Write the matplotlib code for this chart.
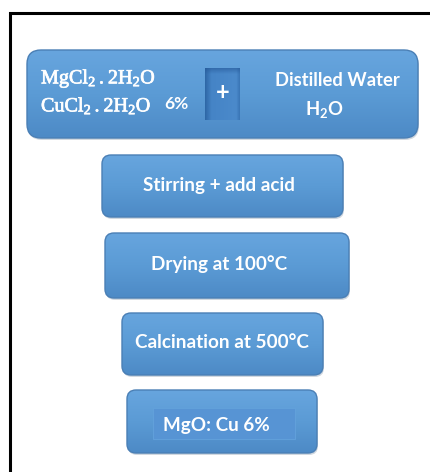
import numpy as np
import matplotlib
matplotlib.use('Agg')
import matplotlib.pyplot as plt
import matplotlib.patheffects as pe
from matplotlib.patches import FancyBboxPatch, Rectangle

plt.rcParams['mathtext.fontset'] = 'custom'
plt.rcParams['mathtext.rm'] = 'Liberation Serif'
plt.rcParams['mathtext.bf'] = 'Lato:bold'

# flowchart steps (top to bottom)
steps = ['Stirring + add acid', 'Drying at 100°C', 'Calcination at 500°C', 'MgO: Cu 6%']
# box extents in pixels: x0, y0, x1, y1
step_boxes = [(102, 155, 343, 217), (105, 233, 349, 298), (122, 313, 323, 375), (127, 390, 317, 453)]
step_text_x = [219, 219, 222, 216]

reagents = [r'$\mathrm{MgCl_2}\,\mathrm{{.}2H_2O}$', r'$\mathrm{CuCl_2}\,\mathrm{{.}2H_2O}$']
solvent = ['Distilled Water', r'$\mathbf{H_2O}$']

W, H = 430, 472
fig = plt.figure(figsize=(W / 100, H / 100), dpi=100)
ax = fig.add_axes([0, 0, 1, 1])
ax.set_xlim(0, W)
ax.set_ylim(H, 0)
ax.axis('off')

# outer frame (clipped on right and bottom)
ax.plot([10, 10, W + 5], [H + 5, 13, 13], color='black', lw=2.2, solid_joinstyle='miter')


def blue_box(x0, y0, x1, y1, r=10):
    # soft shadow
    sh = FancyBboxPatch((x0 + 1, y0 + 2), x1 - x0, y1 - y0,
                        boxstyle='round,pad=0,rounding_size=%d' % r,
                        fc='#9aa9b8', ec='none', alpha=0.45, zorder=1)
    ax.add_patch(sh)
    p = FancyBboxPatch((x0, y0), x1 - x0, y1 - y0,
                       boxstyle='round,pad=0,rounding_size=%d' % r,
                       fc='none', ec='#4a7fb5', lw=1.0, zorder=3)
    ax.add_patch(p)
    grad = np.linspace(0, 1, 64).reshape(-1, 1)
    cmap = matplotlib.colors.LinearSegmentedColormap.from_list(
        'b', ['#67a5de', '#5b9bd5', '#4d8ac6'])
    im = ax.imshow(grad, cmap=cmap, extent=(x0, x1, y1, y0), aspect='auto', zorder=2)
    im.set_clip_path(p)
    ax.set_xlim(0, W)
    ax.set_ylim(H, 0)


thick = [pe.withStroke(linewidth=0.5, foreground='white')]

# top box
blue_box(27, 50, 418, 138, r=14)
# plus box (inset look): dark left edge fading into flat fill
gx = np.linspace(0, 1, 64).reshape(1, -1)
pcm = matplotlib.colors.LinearSegmentedColormap.from_list(
    'p', [(0, '#2e67a6'), (0.18, '#4584c6'), (0.9, '#4b8acb'), (1, '#3a76b6')])
ax.imshow(gx, cmap=pcm, extent=(205, 240, 120, 68), aspect='auto', zorder=4)
gy = np.linspace(0, 1, 32).reshape(-1, 1)
ax.imshow(gy, cmap=matplotlib.colors.LinearSegmentedColormap.from_list(
    't', [(0, (0.15, 0.35, 0.6, 0.6)), (1, (0.15, 0.35, 0.6, 0.0))]),
    extent=(205, 240, 74, 68), aspect='auto', zorder=4)
ax.set_xlim(0, W)
ax.set_ylim(H, 0)
ax.text(223, 92, '+', color='white', fontsize=17, fontweight='bold',
        family='Lato', ha='center', va='center', zorder=6)

for k in range(len(reagents)):
    ax.text(41, 79 + 27 * k, reagents[k], color='white', fontsize=14.5, ha='left',
            va='center', zorder=6, path_effects=thick)
ax.text(164, 104, '6%', color='white', fontsize=12.5, fontweight='bold', family='Lato',
        ha='left', va='center', zorder=6)
ax.text(337, 81, solvent[0], color='white', fontsize=13.2, fontweight='bold', family='Lato',
        ha='center', va='center', zorder=6)
ax.text(324, 109, solvent[1], color='white', fontsize=13.2, ha='center', va='center', zorder=6)

for i in range(len(steps)):
    x0, y0, x1, y1 = step_boxes[i]
    blue_box(x0, y0, x1, y1, r=9)
    ty = (y0 + y1) / 2 - 1
    if i == len(steps) - 1:
        ax.add_patch(Rectangle((153, 408), 142, 31, fc='#5794d4', ec='#63a2dc', lw=0.6, zorder=4))
        ty = 425
    ax.text(step_text_x[i], ty, steps[i], color='white', fontsize=13.6, fontweight='bold',
            family='Lato', ha='center', va='center', zorder=6)

fig.savefig('out.png', dpi=100, facecolor='white')
